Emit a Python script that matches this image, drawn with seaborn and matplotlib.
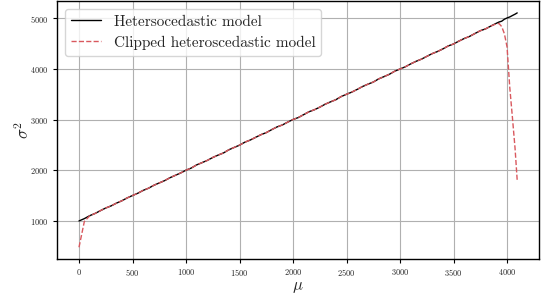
import matplotlib
matplotlib.use("Agg")
import matplotlib.pyplot as plt
import seaborn as sns
import pandas as pd

# mean intensity (x axis)
mu = [0, 50, 100, 150, 200, 250, 300, 350, 400, 450, 500, 550, 600, 650, 700,
      750, 800, 850, 900, 950, 1000, 1050, 1100, 1150, 1200, 1250, 1300, 1350,
      1400, 1450, 1500, 1550, 1600, 1650, 1700, 1750, 1800, 1850, 1900, 1950,
      2000, 2050, 2100, 2150, 2200, 2250, 2300, 2350, 2400, 2450, 2500, 2550,
      2600, 2650, 2700, 2750, 2800, 2850, 2900, 2950, 3000, 3050, 3100, 3150,
      3200, 3250, 3300, 3350, 3400, 3450, 3500, 3550, 3600, 3650, 3700, 3750,
      3800, 3850, 3900, 3925, 3950, 3975, 4000, 4025, 4050, 4075, 4095]

# variance, heteroscedastic model
var_hetero = [1000, 1046, 1104, 1148, 1203, 1256, 1297, 1352, 1398, 1455, 1502,
              1548, 1604, 1647, 1705, 1751, 1796, 1854, 1901, 1948, 2003, 2046,
              2108, 2152, 2197, 2254, 2301, 2343, 2406, 2452, 2497, 2556, 2598,
              2651, 2704, 2745, 2803, 2857, 2896, 2952, 3004, 3043, 3101, 3158,
              3197, 3248, 3306, 3352, 3395, 3457, 3503, 3546, 3599, 3656, 3702,
              3744, 3806, 3851, 3897, 3958, 4002, 4046, 4103, 4154, 4196, 4251,
              4305, 4347, 4398, 4457, 4496, 4553, 4604, 4646, 4703, 4758, 4795,
              4852, 4905, 4930, 4946, 4985, 5010, 5030, 5058, 5085, 5110]

# variance, clipped heteroscedastic model
var_clipped = [480, 990, 1100, 1148, 1203, 1256, 1297, 1352, 1398, 1455, 1502,
               1548, 1604, 1647, 1705, 1751, 1796, 1854, 1901, 1948, 2003, 2046,
               2108, 2152, 2197, 2254, 2301, 2343, 2406, 2452, 2497, 2556, 2598,
               2651, 2704, 2745, 2803, 2857, 2896, 2952, 3004, 3043, 3101, 3158,
               3197, 3248, 3306, 3352, 3395, 3457, 3503, 3546, 3599, 3656, 3702,
               3744, 3806, 3851, 3897, 3958, 4002, 4046, 4103, 4154, 4196, 4251,
               4305, 4347, 4398, 4457, 4496, 4553, 4604, 4646, 4703, 4758, 4795,
               4852, 4895, 4900, 4840, 4700, 4440, 3650, 3050, 2430, 1800]

df = pd.DataFrame({"mu": mu, "hetero": var_hetero, "clipped": var_clipped})

sns.set_style("whitegrid")
plt.rcParams["font.family"] = "serif"
plt.rcParams["font.serif"] = ["cmr10", "DejaVu Serif"]
plt.rcParams["mathtext.fontset"] = "cm"
plt.rcParams["axes.formatter.use_mathtext"] = True

fig, ax = plt.subplots(figsize=(5.49, 2.97), dpi=100)
fig.subplots_adjust(left=0.104, right=0.982, bottom=0.128, top=0.996)

sns.lineplot(data=df, x="mu", y="hetero", ax=ax, color="black", lw=1.0,
             sort=False, estimator=None, label="Hetersocedastic model")
sns.lineplot(data=df, x="mu", y="clipped", ax=ax, color="#d9585e", lw=1.0,
             sort=False, estimator=None, linestyle="--",
             label="Clipped heteroscedastic model")

ax.set_xticks([0, 500, 1000, 1500, 2000, 2500, 3000, 3500, 4000])
ax.set_yticks([1000, 2000, 3000, 4000, 5000])
ax.tick_params(axis="both", labelsize=6, length=3, width=0.8, color="black",
               bottom=True, left=True, pad=3)
ax.set_xlabel(r"$\mu$", fontsize=12, labelpad=1)
ax.set_ylabel(r"$\sigma^2$", fontsize=12, labelpad=-1)
ax.grid(True, color="#b0b0b0", lw=0.8)
for s in ax.spines.values():
    s.set_color("black")
    s.set_linewidth(1.0)

ax.legend(loc="upper left", fontsize=11, frameon=True, framealpha=0.8,
          handlelength=2.0, borderpad=0.4, labelspacing=0.45)

plt.savefig("out.png", dpi=100)
